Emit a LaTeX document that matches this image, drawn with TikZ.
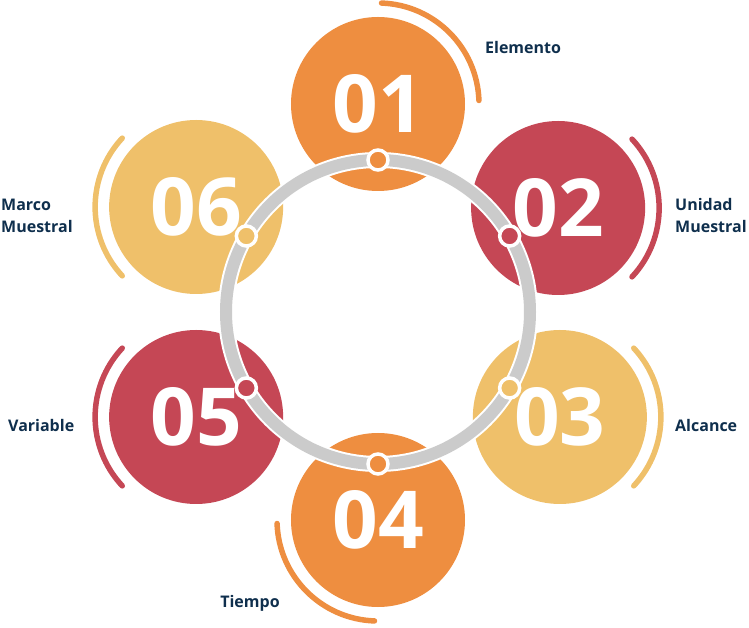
\documentclass[tikz,border=0pt]{standalone}
\usepackage{fontspec}
\setmainfont{Open Sans}
\usetikzlibrary{positioning}
\definecolor{naranja}{HTML}{EE8E40}
\definecolor{rojo}{HTML}{C54755}
\definecolor{amarillo}{HTML}{EFC06A}
\definecolor{anillo}{HTML}{CBCBCB}
\definecolor{azul}{HTML}{0F2F4D}

\begin{document}
\begin{tikzpicture}[
    x=1pt, y=1pt,
    disco/.style={circle, minimum size=174pt, inner sep=0pt, text=white, font=\fontsize{80}{80}\selectfont\bfseries},
    punto/.style={circle, minimum size=20pt, inner sep=0pt, draw=white, line width=3.5pt},
    arco/.style={line width=5.5pt, line cap=round},
    etiqueta/.style={text=azul, font=\fontsize{16}{22}\selectfont\bfseries, align=left, inner sep=0pt}
]
    \useasboundingbox (-378,-316) rectangle (371,312);
    \coordinate (c) at (0,0);

    % discos numerados
    \node[disco, fill=naranja]  (d1) at (90:208)  {01};
    \node[disco, fill=rojo]     (d2) at (30:208)  {02};
    \node[disco, fill=amarillo] (d3) at (-30:210) {03};
    \node[disco, fill=naranja]  (d4) at (-90:208) {04};
    \node[disco, fill=rojo]     (d5) at (-150:210) {05};
    \node[disco, fill=amarillo] (d6) at (150:210) {06};

    % arcos exteriores
    \draw[arco, naranja]  (d1.center) ++(88:101)  arc[start angle=88,  end angle=2,   radius=101];
    \draw[arco, rojo]     (d2.center) ++(43:101)  arc[start angle=43,  end angle=-43, radius=101];
    \draw[arco, amarillo] (d3.center) ++(43:101)  arc[start angle=43,  end angle=-43, radius=101];
    \draw[arco, naranja]  (d4.center) ++(182:101) arc[start angle=182, end angle=268, radius=101];
    \draw[arco, rojo]     (d5.center) ++(137:101) arc[start angle=137, end angle=223, radius=101];
    \draw[arco, amarillo] (d6.center) ++(137:101) arc[start angle=137, end angle=223, radius=101];

    % anillo central
    \draw[white, line width=16pt] (c) circle[radius=152];
    \draw[anillo, line width=12pt] (c) circle[radius=152];

    % puntos sobre el anillo
    \node[punto, fill=naranja]  (p1) at (90:152)   {};
    \node[punto, fill=rojo]     (p2) at (30:152)   {};
    \node[punto, fill=amarillo] (p3) at (-30:152)  {};
    \node[punto, fill=naranja]  (p4) at (-90:152)  {};
    \node[punto, fill=rojo]     (p5) at (-150:152) {};
    \node[punto, fill=amarillo] (p6) at (150:152)  {};

    % etiquetas
    \node[etiqueta, anchor=west] (e1) at (107,264)   {Elemento};
    \node[etiqueta, anchor=west] (e2) at (297,96)    {Unidad\\Muestral};
    \node[etiqueta, anchor=west] (e3) at (297,-114)  {Alcance};
    \node[etiqueta]              (e4) at (-128,-291) {Tiempo};
    \node[etiqueta, anchor=west] (e5) at (-370,-114) {Variable};
    \node[etiqueta, anchor=west] (e6) at (-377,96)   {Marco\\Muestral};
\end{tikzpicture}
\end{document}
